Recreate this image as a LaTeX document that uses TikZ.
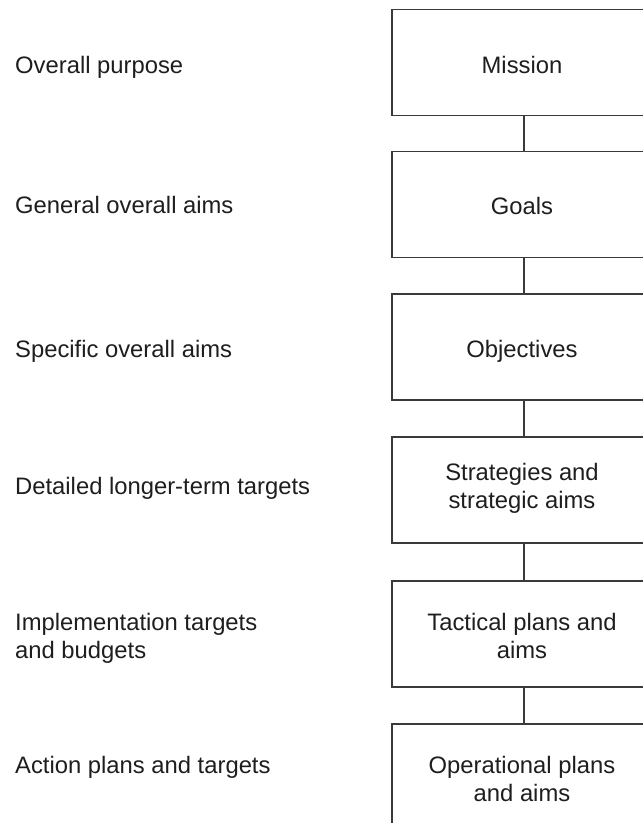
\documentclass[tikz,border=0pt]{standalone}
\usepackage{fontspec}
\setmainfont{Liberation Sans}
\definecolor{inkc}{HTML}{1E1E1E}
\definecolor{linec}{HTML}{3A3A3A}
\begin{document}
\begin{tikzpicture}[x=1pt,y=-1pt,
  every node/.style={font=\fontsize{23.8}{28}\selectfont, text=inkc, inner sep=0pt},
  levelbox/.style={draw=linec, line width=1.4pt, minimum width=264pt, minimum height=106pt},
  boxtext/.style={anchor=base},
  sidelabel/.style={anchor=base west},
  link/.style={draw=linec, line width=1.3pt}]
\useasboundingbox (0,0) rectangle (643,823);
\fill[white] (0,0) rectangle (643,823);

\begin{scope}
  \clip (0,0) rectangle (643,823);
  % hierarchy boxes
  \node[levelbox] (mission)     at (524,62.5) {};
  \node[levelbox] (goals)       at (524,204.5) {};
  \node[levelbox] (objectives)  at (524,347) {};
  \node[levelbox] (strategies)  at (524,490) {};
  \node[levelbox] (tactical)    at (524,634) {};
  \node[levelbox] (operational) at (524,777) {};
  % vertical links between levels
  \draw[link] (mission) -- (goals);
  \draw[link] (goals) -- (objectives);
  \draw[link] (objectives) -- (strategies);
  \draw[link] (strategies) -- (tactical);
  \draw[link] (tactical) -- (operational);
\end{scope}

% box captions
\node[boxtext] (missiontext)     at (522,73)  {Mission};
\node[boxtext] (goalstext)       at (522,214) {Goals};
\node[boxtext] (objectivestext)  at (522,357) {Objectives};
\node[boxtext] (strategiestext)  at (522,480) {\begin{tabular}[t]{@{}c@{}}Strategies and\\strategic aims\end{tabular}};
\node[boxtext] (tacticaltext)    at (522,630) {\begin{tabular}[t]{@{}c@{}}Tactical plans and\\aims\end{tabular}};
\node[boxtext] (operationaltext) at (522,773) {\begin{tabular}[t]{@{}c@{}}Operational plans\\and aims\end{tabular}};

% descriptions on the left
\node[sidelabel] (purpose)   at (15,73)  {Overall purpose};
\node[sidelabel] (general)   at (15,213) {General overall aims};
\node[sidelabel] (specific)  at (15,357) {Specific overall aims};
\node[sidelabel] (detailed)  at (15,494) {Detailed longer-term targets};
\node[sidelabel] (implement) at (15,630) {\begin{tabular}[t]{@{}l@{}}Implementation targets\\and budgets\end{tabular}};
\node[sidelabel] (action)    at (15,773) {Action plans and targets};
\end{tikzpicture}
\end{document}
